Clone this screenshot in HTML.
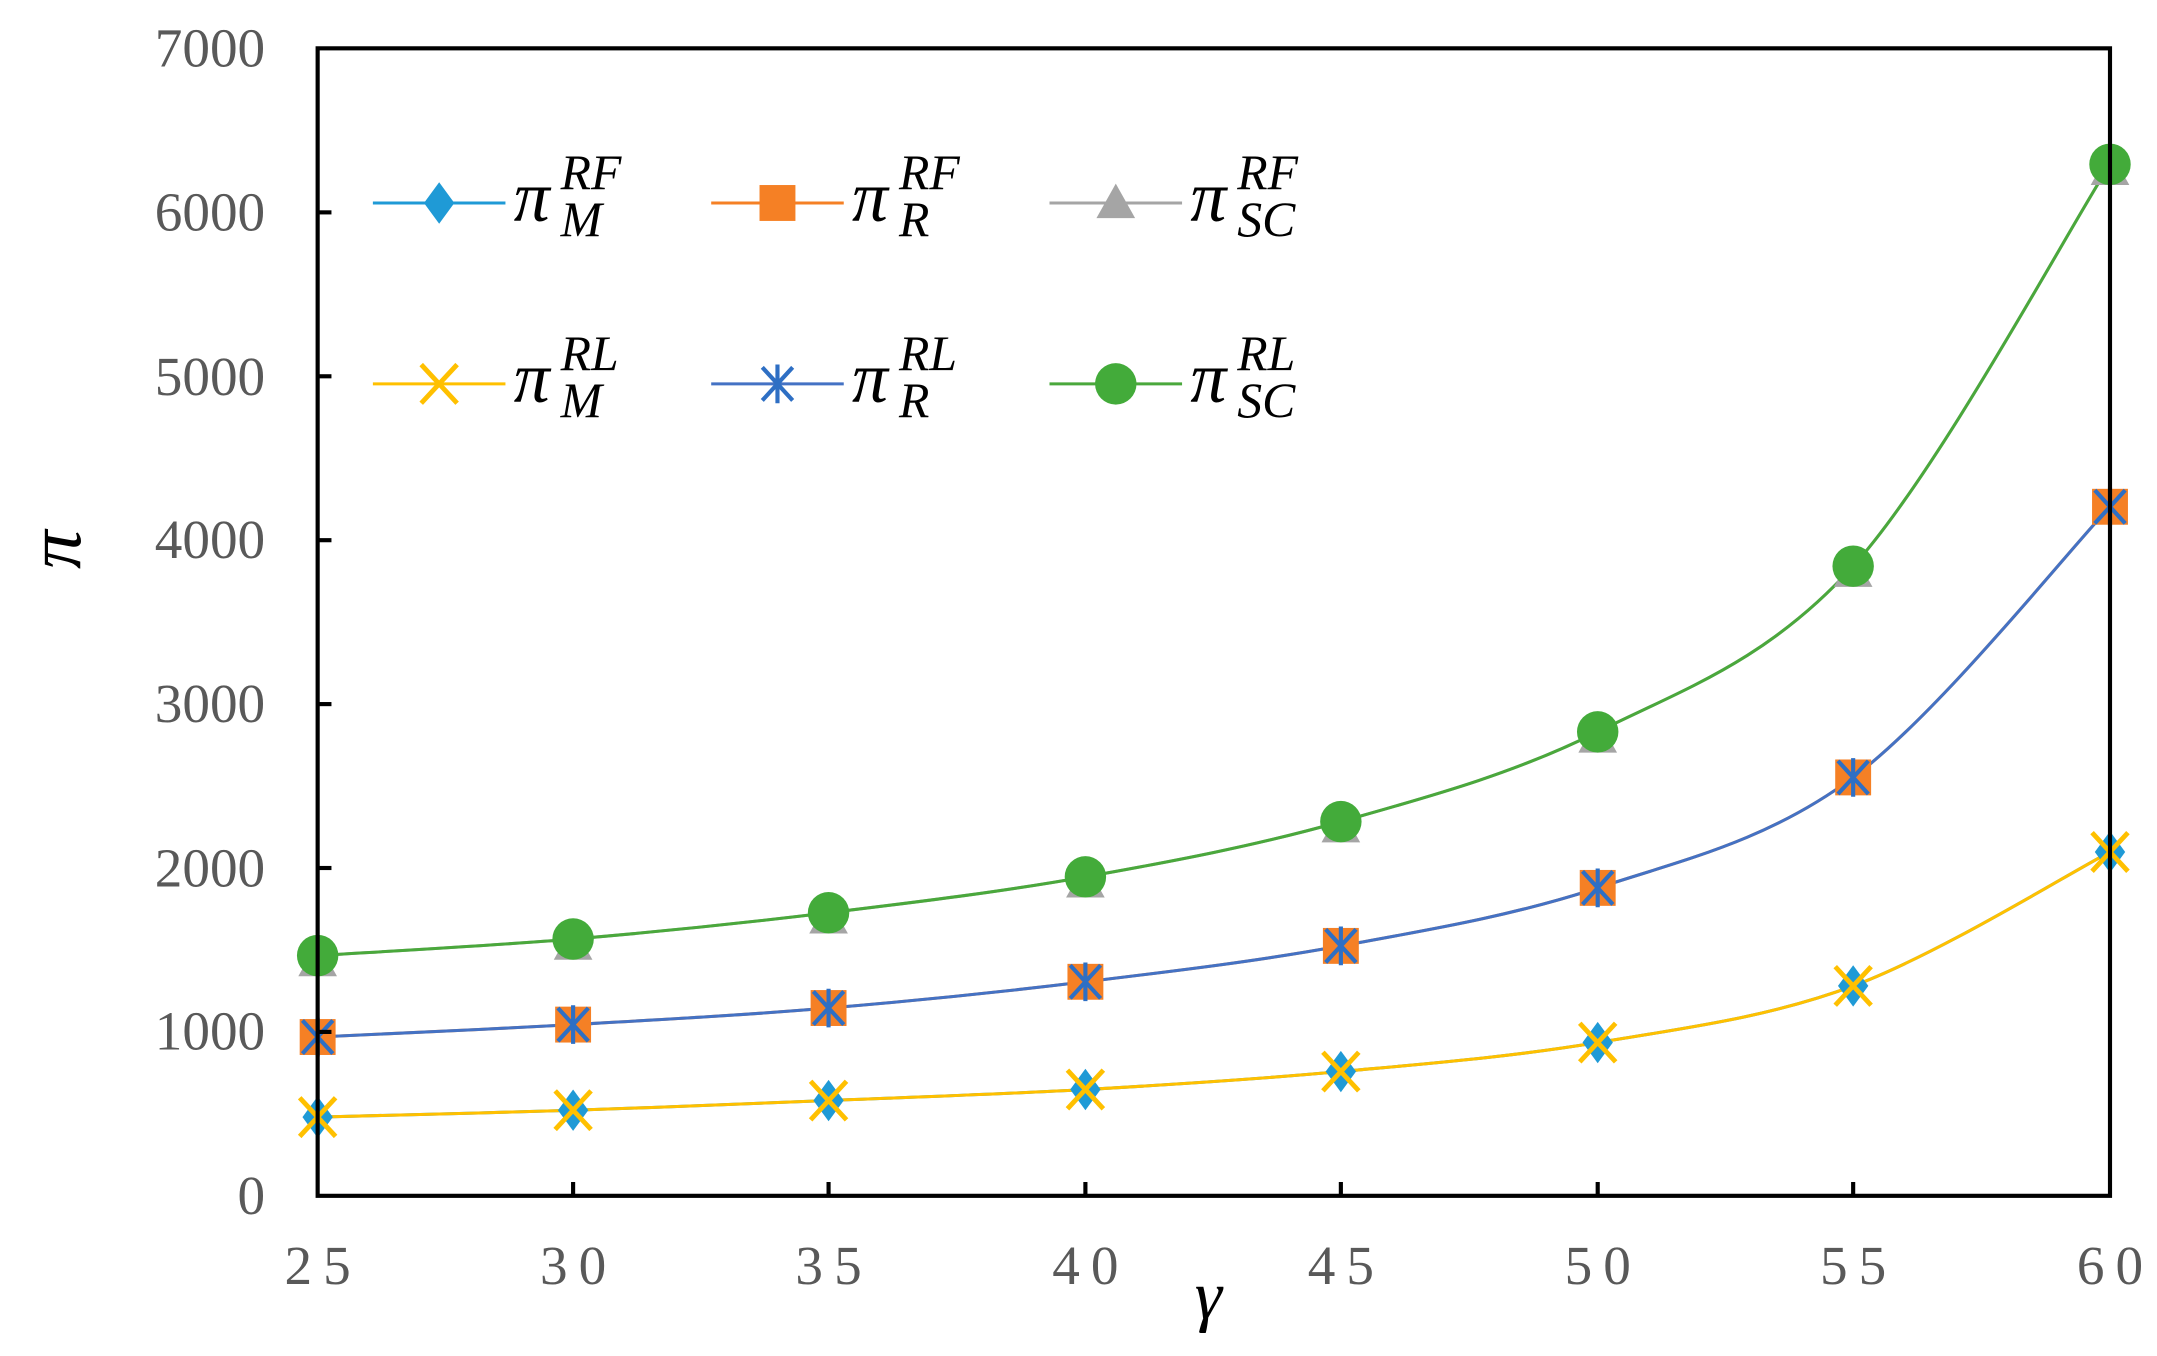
<!DOCTYPE html>
<html><head><meta charset="utf-8"><style>html,body{margin:0;padding:0;background:#fff}svg{display:block}</style></head>
<body>
<svg id="s" width="2157" height="1356" viewBox="0 0 1562 982" xmlns="http://www.w3.org/2000/svg">
<rect width="1562" height="982" fill="#fff"/>
<g id="plot"></g>
<rect x="230" y="35" width="1298" height="831" fill="none" stroke="#000" stroke-width="3"/>
<g id="ticks" stroke="#000" stroke-width="3"></g>
<g font-family="'Liberation Serif', serif" font-size="40" fill="#595959" text-anchor="end">
<text x="192" y="48">7000</text><text x="192" y="167">6000</text><text x="192" y="286">5000</text>
<text x="192" y="404">4000</text><text x="192" y="523">3000</text><text x="192" y="642">2000</text>
<text x="192" y="760">1000</text><text x="192" y="879">0</text>
</g>
<g font-family="'Liberation Serif', serif" font-size="40" fill="#595959" text-anchor="middle" letter-spacing="8">
<text x="234" y="930">25</text><text x="419" y="930">30</text><text x="604" y="930">35</text><text x="790" y="930">40</text>
<text x="975" y="930">45</text><text x="1161" y="930">50</text><text x="1346" y="930">55</text><text x="1532" y="930">60</text>
</g>
<text x="875" y="955" font-family="'Liberation Serif', serif" font-style="italic" font-size="50" text-anchor="middle">γ</text>
<text transform="translate(58,398) rotate(-90)" font-family="'Liberation Serif', serif" font-style="italic" font-size="56" text-anchor="middle">π</text>
<g id="leg" font-family="'Liberation Serif', serif" font-style="italic"></g>
</svg>
<script>
var X=[230,415,600,786,971,1157,1342,1528];
var SC=[692,680,661,635,595,530,410,119],R=[751,742,730,711,685,643,563,367],M=[809,804,797,789,776,755,714,617];
var NS="http://www.w3.org/2000/svg",plot=document.getElementById('plot'),leg=document.getElementById('leg'),ticks=document.getElementById('ticks');
function el(p,t,a){var e=document.createElementNS(NS,t);for(var k in a)e.setAttribute(k,a[k]);p.appendChild(e);return e;}
for(var i=1;i<7;i++){var y=866-i*118.7;el(ticks,'line',{x1:230,y1:y,x2:240,y2:y});}
X.slice(1,7).forEach(function(x){el(ticks,'line',{x1:x,y1:866,x2:x,y2:856});});
function smooth(Y){var d="M"+X[0]+","+Y[0];for(var i=0;i<7;i++){var x0=X[Math.max(i-1,0)],y0=Y[Math.max(i-1,0)],x3=X[Math.min(i+2,7)],y3=Y[Math.min(i+2,7)];
var c1x=X[i]+(X[i+1]-x0)/6,c1y=Y[i]+(Y[i+1]-y0)/6,c2x=X[i+1]-(x3-X[i])/6,c2y=Y[i+1]-(y3-Y[i])/6;d+=" C"+c1x+","+c1y+" "+c2x+","+c2y+" "+X[i+1]+","+Y[i+1];}return d;}
function mk(p,type,x,y){
 if(type=='dia')el(p,'polygon',{points:(x)+","+(y-15)+" "+(x+11)+","+y+" "+x+","+(y+15)+" "+(x-11)+","+y,fill:'#1f9ad6'});
 if(type=='sq')el(p,'rect',{x:x-13,y:y-13,width:26,height:26,fill:'#f58025'});
 if(type=='tri')el(p,'polygon',{points:x+","+(y-14)+" "+(x+14)+","+(y+11)+" "+(x-14)+","+(y+11),fill:'#a5a5a5'});
 if(type=='x'){el(p,'path',{d:"M"+(x-13)+","+(y-14)+"L"+(x+13)+","+(y+14)+"M"+(x+13)+","+(y-14)+"L"+(x-13)+","+(y+14),stroke:'#ffc000','stroke-width':3.5});}
 if(type=='ast'){el(p,'path',{d:"M"+(x-11)+","+(y-12)+"L"+(x+11)+","+(y+12)+"M"+(x+11)+","+(y-12)+"L"+(x-11)+","+(y+12)+"M"+x+","+(y-14)+"L"+x+","+(y+14),stroke:'#2e6fc4','stroke-width':3});}
 if(type=='cir')el(p,'circle',{cx:x,cy:y,r:15,fill:'#43ab3a'});
}
var series=[[M,'#1f9ad6','dia'],[R,'#f58025','sq'],[SC,'#a5a5a5','tri'],[M,'#ffc000','x'],[R,'#4472c4','ast'],[SC,'#4aa83c','cir']];
series.forEach(function(s){el(plot,'path',{d:smooth(s[0]),fill:'none',stroke:s[1],'stroke-width':2.2});});
series.forEach(function(s){for(var i=0;i<8;i++)mk(plot,s[2],X[i],s[0][i]+(s[2]=='tri'?4:0));});
var L=[[270,147,'#1f9ad6','dia','RF','M'],[515,147,'#f58025','sq','RF','R'],[760,147,'#a5a5a5','tri','RF','SC'],
[270,278,'#ffc000','x','RL','M'],[515,278,'#4472c4','ast','RL','R'],[760,278,'#4aa83c','cir','RL','SC']];
L.forEach(function(l){el(leg,'line',{x1:l[0],y1:l[1],x2:l[0]+96,y2:l[1],stroke:l[2],'stroke-width':2.2});mk(leg,l[3],l[0]+48,l[1]);
 var t=el(leg,'text',{x:l[0]+102,y:l[1]+13,'font-size':52});t.textContent='π';
 var a=el(leg,'text',{x:l[0]+136,y:l[1]-10,'font-size':36});a.textContent=l[4];
 var b=el(leg,'text',{x:l[0]+136,y:l[1]+24,'font-size':36});b.textContent=l[5];});
</script>
</body></html>
